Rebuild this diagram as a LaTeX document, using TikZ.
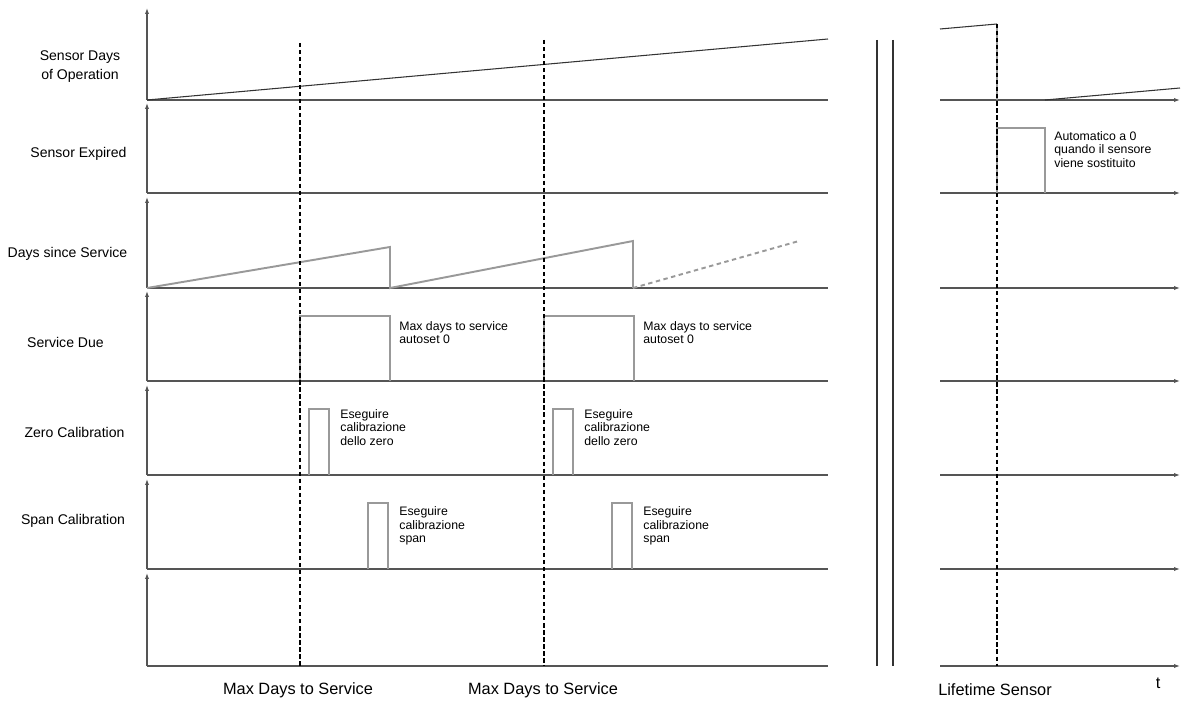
\documentclass[tikz,border=0pt]{standalone}
\usepackage{fontspec}
\setmainfont{Liberation Sans}
\usetikzlibrary{arrows.meta,positioning}
\definecolor{axisgray}{HTML}{555555}
\definecolor{signalgray}{HTML}{999999}
\definecolor{darkgray}{HTML}{333333}

\tikzset{
  axis/.style={axisgray,line width=0.8pt},
  tip/.style={-{Latex[length=3.4pt,width=2.4pt]}},
  signal/.style={signalgray,line width=1.1pt},
  ramp/.style={darkgray,line width=0.6pt},
  marker/.style={black,line width=1pt,dash pattern=on 2.4pt off 1.6pt},
  trace/.style={font=\fontsize{8}{10.8}\selectfont,align=center,inner sep=0pt},
  note/.style={font=\fontsize{7}{7.7}\selectfont,align=left,anchor=west,inner sep=0pt},
  timelabel/.style={font=\fontsize{9.3}{11}\selectfont,inner sep=0pt}
}

\begin{document}
\begin{tikzpicture}[x=0.02cm,y=-0.02cm]
  \useasboundingbox (0,0) rectangle (1182,702);
  % axes of the traces
  \foreach \y/\top in {100/8,193/103,288/197,381/291,475/385,569/479,666/573}{
    \draw[axis] (147,\y) -- (828,\y);
    \draw[axis,tip] (147,\y) -- (147,\top);
    \draw[axis,tip] (940,\y) -- (1180,\y);
  }
  % time break
  \draw[darkgray,line width=1.4pt] (877,40) -- (877,666);
  \draw[darkgray,line width=1.4pt] (893,40) -- (893,666);

  % sensor days of operation
  \draw[ramp] (147,100) -- (828,39);
  \draw[ramp] (940,29) -- (997,24);
  \draw[signal] (997,24) -- (997,100);
  \draw[ramp] (1045,100) -- (1180,88);
  % sensor expired
  \draw[signal] (997,193) |- (1045,128) -- (1045,193);
  \node[note] (autozero) at (1054,149.5) {Automatico a 0\\quando il sensore\\viene sostituito};
  % days since service
  \draw[signal] (147,288) -- (390,247) -- (390,288) -- (633,241) -- (633,288);
  \draw[signal,dash pattern=on 2.5pt off 2pt] (633,288) -- (799,241);
  % service due, zero and span calibration
  \foreach \x [count=\i] in {0,244}{
    \draw[signal] (300+\x,381) |- (390+\x,316) -- (390+\x,381);
    \node[note] (due\i) at (399+\x,332.5) {Max days to service\\autoset 0};
    \draw[signal] (309+\x,475) |- (329+\x,409) -- (329+\x,475);
    \node[note] (zero\i) at (340+\x,427.5) {Eseguire\\calibrazione\\dello zero};
    \draw[signal] (368+\x,569) |- (388+\x,503) -- (388+\x,569);
    \node[note] (span\i) at (399+\x,526) {Eseguire\\calibrazione\\span};
  }

  % markers
  \draw[marker] (300,43) -- (300,666);
  \draw[marker] (544,40) -- (544,666);
  \draw[marker] (997,24) -- (997,666);

  % trace names
  \node[trace] (opdays) at (80,66.5) {Sensor Days\\of Operation};
  \node[trace] (expired) at (78.5,154) {Sensor Expired};
  \node[trace] (sinceserv) at (67.5,254) {Days since Service};
  \node[trace] (servdue) at (65.5,342) {Service Due};
  \node[trace] (zerocal) at (74.5,432) {Zero Calibration};
  \node[trace] (spancal) at (73,521) {Span Calibration};

  % time labels
  \node[timelabel] (maxdays1) at (298,690) {Max Days to Service};
  \node[timelabel] (maxdays2) at (543,690) {Max Days to Service};
  \node[timelabel] (lifetime) at (995,690) {Lifetime Sensor};
  \node[timelabel] (taxis) at (1158,683) {t};
\end{tikzpicture}
\end{document}
